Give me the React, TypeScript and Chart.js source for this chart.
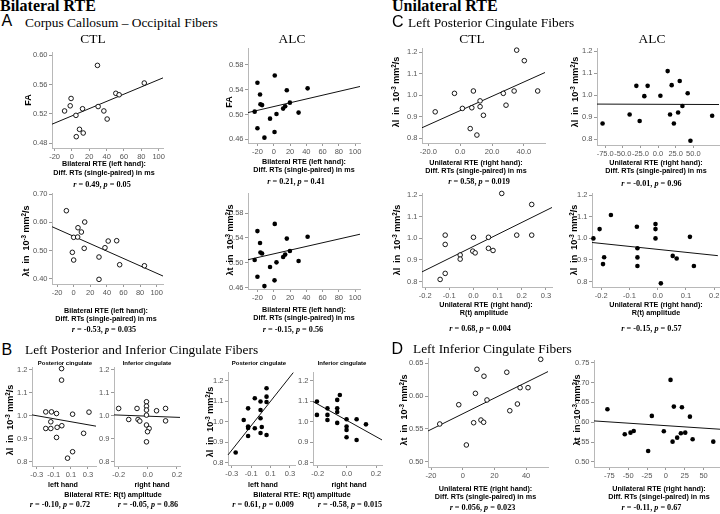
import React, { useEffect, useRef } from "react";
import { Chart, registerables } from "chart.js";
Chart.register(...registerables);

// ================= DATA =================
// A: Corpus Callosum – Occipital Fibers, x = bilateral RTE (left hand), diff. RTs in ms
const aCtlFaX = [-8.5, -2, -1, 4.6, 12.2, 8.7, 13, 5, 29.4, 30.2, 36.8, 40.6, 50.6, 54.4, 83.4];
const aCtlFaY = [0.524, 0.531, 0.541, 0.518, 0.527, 0.499, 0.494, 0.489, 0.586, 0.53, 0.524, 0.513, 0.548, 0.546, 0.562];
const aCtlFaFitX = [-23, 105];
const aCtlFaFitY = [0.506, 0.569];

const aAlcFaX = [-23.5, -20.1, -16.9, -16.4, -14.4, -20.1, -11.5, -4.6, 1.2, 0.9, 3.3, 11.5, 14, 16, 19.8, 30.5, 41.6];
const aAlcFaY = [0.5045, 0.551, 0.532, 0.5165, 0.515, 0.4777, 0.4626, 0.4932, 0.5626, 0.4718, 0.5008, 0.5094, 0.5132, 0.539, 0.519, 0.503, 0.542];
const aAlcFaFitX = [-31.7, 106];
const aAlcFaFitY = [0.503, 0.545];

const aCtlLtX = [-8.8, 13.3, 5.2, 9.3, 0, 4.8, 41.6, 51.8, 12.7, 37.7, -1.6, 0, 30.5, 55.4, 85.2, 30.5];
const aCtlLtY = [0.6416, 0.6014, 0.5811, 0.5658, 0.547, 0.548, 0.5338, 0.5349, 0.5078, 0.51, 0.4936, 0.4662, 0.4769, 0.4495, 0.4459, 0.3975];
const aCtlLtFitX = [-26.1, 107.6];
const aCtlLtFitY = [0.5847, 0.4093];

const aAlcLtX = [-23.5, -20.1, -16.9, -16.4, -14.4, -20.1, -11.5, -4.6, 1.2, 0.9, 3.3, 11.5, 14, 16, 19.8, 30.5, 41.6];
const aAlcLtY = [0.5045, 0.551, 0.532, 0.5165, 0.515, 0.4777, 0.4626, 0.4932, 0.5626, 0.4718, 0.5008, 0.5094, 0.5132, 0.539, 0.519, 0.503, 0.542];
const aAlcLtFitX = [-31.7, 106];
const aAlcLtFitY = [0.505, 0.546];

// B: Left posterior / inferior cingulate, x = bilateral RTE R(t) amplitude
const bCtlPostX = [-0.009, -0.009, -0.194, -0.127, -0.068, 0.12, 0.312, -0.135, -0.194, -0.135, -0.061, -0.006, -0.068, 0.249, 0.12, 0.061];
const bCtlPostY = [1.205, 1.155, 1.017, 1.017, 1.01, 1.007, 1.016, 0.974, 0.945, 0.945, 0.95, 0.957, 0.906, 0.924, 0.844, 0.816];
const bCtlPostFitX = [-0.355, 0.394];
const bCtlPostFitY = [1.004, 0.955];

const bCtlInfX = [-0.2, -0.074, -0.009, -0.009, -0.009, 0.06, 0.122, -0.131, -0.067, -0.009, -0.055, 0.122, -0.009, 0.009, -0.002, -0.009];
const bCtlInfY = [1.032, 1.032, 1.061, 1.042, 1.025, 1.022, 1.032, 0.984, 0.984, 1.003, 0.977, 0.978, 0.96, 0.945, 0.931, 0.887];
const bCtlInfFitX = [-0.232, 0.221];
const bCtlInfFitY = [1.004, 0.993];

const bAlcPostX = [-0.259, -0.131, -0.131, -0.131, -0.131, -0.062, -0.062, -0.003, -0.003, -0.003, -0.003, 0.059, 0.059, 0.059, 0.059, 0.01, -0.176];
const bAlcPostY = [0.85, 1.065, 0.976, 0.969, 0.93, 1.114, 0.968, 1.098, 1.057, 1.017, 0.945, 1.163, 1.122, 1.096, 0.935, 0.974, 1.008];
const bAlcPostFitX = [-0.338, 0.334];
const bAlcPostFitY = [0.838, 1.239];

const bAlcInfX = [-0.205, -0.133, -0.133, -0.066, -0.066, -0.066, -0.066, -0.002, -0.002, -0.002, -0.002, 0.067, 0.131, -0.133, -0.205, 0.067, -0.048];
const bAlcInfY = [1.098, 1.065, 1.033, 1.106, 1.065, 1.047, 0.994, 1.012, 0.976, 0.96, 0.924, 1.012, 0.987, 1.008, 1.033, 0.911, 1.13];
const bAlcInfFitX = [-0.232, 0.241];
const bAlcInfFitY = [1.098, 0.911];

// C: Left posterior cingulate, x = unilateral RTE (right hand)
const cCtlDiffX = [-15.7, -3.6, 1.4, 7.3, 8.3, 12.5, 12.5, 14.6, 6.3, 10.5, 27.1, 28.8, 33.9, 35.5, 40.3, 48.7];
const cCtlDiffY = [0.922, 1.008, 0.938, 0.941, 1.019, 0.973, 0.946, 0.906, 0.844, 0.814, 1.008, 0.953, 1.019, 1.209, 1.16, 1.019];
const cCtlDiffFitX = [-24, 53.3];
const cCtlDiffFitY = [0.848, 1.105];

const cAlcDiffX = [-78.7, -40.3, -30.8, -19.5, -14.8, 3.3, 13.6, 19.3, 17, 22.4, 28.4, 30.7, 34.5, 42, 76.7, -26.1, 45.9];
const cAlcDiffY = [0.871, 0.912, 1.042, 0.995, 1.042, 0.997, 1.109, 1.045, 0.912, 0.871, 0.921, 1.064, 0.95, 1.008, 0.906, 0.882, 0.792];
const cAlcDiffFitX = [-86.6, 86.4];
const cAlcDiffFitY = [0.959, 0.957];

const cCtlRtX = [-0.117, -0.117, -0.055, -0.055, 0, -0.003, 0.007, 0.062, 0.062, 0.081, 0.117, 0.179, 0.241, 0.241, -0.138, -0.117];
const cCtlRtY = [1.015, 0.972, 0.923, 0.904, 1.005, 0.941, 0.933, 1.005, 0.954, 0.944, 1.208, 1.015, 1.157, 1.015, 0.81, 0.838];
const cCtlRtFitX = [-0.213, 0.325];
const cCtlRtFitY = [0.845, 1.143];

const cAlcRtX = [-0.228, -0.206, -0.166, -0.074, -0.072, -0.008, -0.008, -0.008, 0.114, -0.19, -0.194, -0.072, -0.072, 0.053, 0.067, 0.128, 0.011];
const cAlcRtY = [1.0, 1.043, 1.108, 1.054, 0.954, 1.066, 1.043, 1.0, 1.007, 0.913, 0.881, 0.912, 0.872, 0.919, 0.907, 0.872, 0.792];
const cAlcRtFitX = [-0.233, 0.213];
const cAlcRtFitY = [0.981, 0.92];

// D: Left inferior cingulate, x = unilateral RTE (right hand) diff. RTs
const dCtlX = [9, 13.4, 27.8, 49.2, 8, 15.3, 36.2, 41.2, -14.5, -2.5, 6.9, 11.5, 13.2, 2.3, 29.7, 34.5];
const dCtlY = [0.6405, 0.63, 0.636, 0.6556, 0.604, 0.594, 0.6126, 0.6126, 0.5576, 0.5868, 0.5595, 0.5636, 0.5602, 0.5258, 0.5777, 0.5879];
const dCtlFitX = [-21.9, 53.8];
const dCtlFitY = [0.547, 0.637];

const dAlcX = [-77.5, -54.5, -46.9, -42.6, -23.5, -18.6, -2.7, 8.9, 10.6, 15, 21.3, 19.9, 25.7, 31.9, 35.5, 62.9, 6.2];
const dAlcY = [0.6328, 0.5697, 0.5737, 0.578, 0.5275, 0.6159, 0.5773, 0.551, 0.6394, 0.5611, 0.6379, 0.5722, 0.5737, 0.6141, 0.5571, 0.551, 0.7068];
const dAlcFitX = [-95.3, 71.8];
const dAlcFitY = [0.6033, 0.5823];

// tick values
const ticksAx = [-20, 0, 20, 40, 60, 80, 100];
const ticksAFaCtl = [0.48, 0.52, 0.56, 0.6];
const ticksAFaAlc = [0.46, 0.5, 0.54, 0.58];
const ticksALtCtl = [0.4, 0.5, 0.6, 0.7];
const ticksBy = [0.8, 0.9, 1.0, 1.1, 1.2];
const ticksBLeft = [-0.3, -0.1, 0.1, 0.3];
const ticksBRight = [-0.2, 0, 0.2];
const ticksCDiffCtl = [-20, 0, 20, 40];
const ticksCDiffAlc = [-75, -50, -25, 0, 25, 50];
const ticksCRtCtl = [-0.2, -0.1, 0, 0.1, 0.2, 0.3];
const ticksCRtAlc = [-0.2, -0.1, 0, 0.1, 0.2];
const ticksDCtlY = [0.5, 0.55, 0.6, 0.65];
const ticksDAlcY = [0.5, 0.55, 0.6, 0.65, 0.7, 0.75];
const ticksDCtlX = [-20, 0, 20, 40];
const ticksDAlcX = [-75, -50, -25, 0, 25, 50];

// ================= LAYOUT / STYLE =================
const serif = '"Liberation Serif", "Times New Roman", Times, serif';
const sans = '"Liberation Sans", Arial, Helvetica, sans-serif';
const PL = 26, PR = 14, PT = 8, PB = 18;

type Spec = {
  box: number[]; xr: number[]; yr: number[];
  xt: number[]; yt: number[]; xd: number; yd: number;
  xs: number[]; ys: number[]; fx: number[]; fy: number[]; filled: boolean;
};

const specs: Spec[] = [
  { box: [52, 52, 163, 148], xr: [-23, 105], yr: [0.4736, 0.6042], xt: ticksAx, yt: ticksAFaCtl, xd: 0, yd: 2, xs: aCtlFaX, ys: aCtlFaY, fx: aCtlFaFitX, fy: aCtlFaFitY, filled: false },
  { box: [248, 48, 360, 143], xr: [-31.7, 106], yr: [0.454, 0.607], xt: ticksAx, yt: ticksAFaAlc, xd: 0, yd: 2, xs: aAlcFaX, ys: aAlcFaY, fx: aAlcFaFitX, fy: aAlcFaFitY, filled: true },
  { box: [52, 193, 163, 284], xr: [-26.1, 107.6], yr: [0.381, 0.7046], xt: ticksAx, yt: ticksALtCtl, xd: 0, yd: 2, xs: aCtlLtX, ys: aCtlLtY, fx: aCtlLtFitX, fy: aCtlLtFitY, filled: false },
  { box: [248, 193, 360, 289], xr: [-31.7, 106], yr: [0.4579, 0.6123], xt: ticksAx, yt: ticksAFaAlc, xd: 0, yd: 2, xs: aAlcLtX, ys: aAlcLtY, fx: aAlcLtFitX, fy: aAlcLtFitY, filled: true },
  { box: [32, 367, 96, 466], xr: [-0.355, 0.394], yr: [0.782, 1.212], xt: ticksBLeft, yt: ticksBy, xd: 1, yd: 1, xs: bCtlPostX, ys: bCtlPostY, fx: bCtlPostFitX, fy: bCtlPostFitY, filled: false },
  { box: [114, 367, 180, 466], xr: [-0.232, 0.221], yr: [0.782, 1.212], xt: ticksBRight, yt: ticksBy, xd: 1, yd: 1, xs: bCtlInfX, ys: bCtlInfY, fx: bCtlInfFitX, fy: bCtlInfFitY, filled: false },
  { box: [228, 372, 295, 465], xr: [-0.338, 0.352], yr: [0.789, 1.242], xt: ticksBLeft, yt: ticksBy, xd: 1, yd: 1, xs: bAlcPostX, ys: bAlcPostY, fx: bAlcPostFitX, fy: bAlcPostFitY, filled: true },
  { box: [313, 372, 382, 465], xr: [-0.232, 0.241], yr: [0.789, 1.242], xt: ticksBRight, yt: ticksBy, xd: 1, yd: 1, xs: bAlcInfX, ys: bAlcInfY, fx: bAlcInfFitX, fy: bAlcInfFitY, filled: true },
  { box: [422, 48, 545, 143], xr: [-24, 53.3], yr: [0.777, 1.219], xt: ticksCDiffCtl, yt: ticksBy, xd: 1, yd: 1, xs: cCtlDiffX, ys: cCtlDiffY, fx: cCtlDiffFitX, fy: cCtlDiffFitY, filled: false },
  { box: [597, 48, 719, 145], xr: [-86.6, 86.4], yr: [0.773, 1.214], xt: ticksCDiffAlc, yt: ticksBy, xd: 1, yd: 1, xs: cAlcDiffX, ys: cAlcDiffY, fx: cAlcDiffFitX, fy: cAlcDiffFitY, filled: true },
  { box: [422, 193, 552, 287], xr: [-0.213, 0.325], yr: [0.775, 1.21], xt: ticksCRtCtl, yt: ticksBy, xd: 1, yd: 1, xs: cCtlRtX, ys: cCtlRtY, fx: cCtlRtFitX, fy: cCtlRtFitY, filled: false },
  { box: [592, 193, 719, 287], xr: [-0.233, 0.217], yr: [0.775, 1.21], xt: ticksCRtAlc, yt: ticksBy, xd: 1, yd: 1, xs: cAlcRtX, ys: cAlcRtY, fx: cAlcRtFitX, fy: cAlcRtFitY, filled: true },
  { box: [428, 358, 548, 467], xr: [-21.9, 53.8], yr: [0.4924, 0.6576], xt: ticksDCtlX, yt: ticksDCtlY, xd: 0, yd: 2, xs: dCtlX, ys: dCtlY, fx: dCtlFitX, fy: dCtlFitY, filled: false },
  { box: [594, 360, 720, 467], xr: [-95.3, 71.8], yr: [0.487, 0.757], xt: ticksDAlcX, yt: ticksDAlcY, xd: 0, yd: 2, xs: dAlcX, ys: dAlcY, fx: dAlcFitX, fy: dAlcFitY, filled: true },
];

function Plot({ s }: { s: Spec }) {
  const ref = useRef<HTMLCanvasElement | null>(null);
  const [l, t, r, b] = s.box.map(Math.round);
  const W = r - l + PL + PR;
  const H = b - t + PT + PB;
  useEffect(() => {
    const c = ref.current;
    if (!c) return;
    const tickFont = { family: sans, size: 7.5 };
    const grid = { display: true, drawOnChartArea: false, drawTicks: true, tickLength: 3, color: "#9a9a9a", lineWidth: 1 };
    const border = { display: true, color: "#b8b8b8", width: 1 };
    const chart = new Chart(c, {
      type: "scatter",
      data: {
        datasets: [
          {
            data: s.xs.map((x, i) => ({ x, y: s.ys[i] })),
            pointRadius: 2.3,
            pointHoverRadius: 2.3,
            pointBackgroundColor: s.filled ? "#000" : "#fff",
            pointBorderColor: "#000",
            pointBorderWidth: s.filled ? 0 : 0.9,
            clip: false,
          },
          {
            data: s.fx.map((x, i) => ({ x, y: s.fy[i] })),
            showLine: true,
            borderColor: "#111",
            borderWidth: 1,
            pointRadius: 0,
            clip: false,
          },
        ],
      },
      options: {
        animation: false,
        responsive: false,
        devicePixelRatio: 1,
        events: [],
        plugins: { legend: { display: false }, tooltip: { enabled: false } },
        layout: { padding: { left: 0, top: PT, right: PR, bottom: 0 } },
        scales: {
          x: {
            type: "linear", min: s.xr[0], max: s.xr[1], grid, border,
            ticks: { autoSkip: false, maxRotation: 0, minRotation: 0, padding: 1.5, color: "#555", font: tickFont, callback: (v: any) => Number(v).toFixed(s.xd) },
            afterBuildTicks: (ax: any) => { ax.ticks = s.xt.map((v) => ({ value: v })); },
            afterFit: (ax: any) => { ax.height = PB; },
          },
          y: {
            type: "linear", min: s.yr[0], max: s.yr[1], grid, border,
            ticks: { autoSkip: false, padding: 1.5, color: "#555", font: tickFont, callback: (v: any) => Number(v).toFixed(s.yd) },
            afterBuildTicks: (ax: any) => { ax.ticks = s.yt.map((v) => ({ value: v })); },
            afterFit: (ax: any) => { ax.width = PL; },
          },
        },
      } as any,
    } as any);
    return () => chart.destroy();
  }, []);
  return (
    <canvas ref={ref} width={W} height={H}
      style={{ position: "absolute", left: l - PL, top: t - PT, width: W, height: H }} />
  );
}

type TP = { x: number; y: number; a?: "l" | "c"; f?: string; s: number; b?: boolean; rot?: boolean; children: any };
function T({ x, y, a = "c", f = sans, s, b = false, rot = false, children }: TP) {
  const tr = rot ? "translate(-50%,-50%) rotate(-90deg)" : a === "l" ? "translate(0,-50%)" : "translate(-50%,-50%)";
  return (
    <div style={{ position: "absolute", left: x, top: y, transform: tr, fontFamily: f, fontSize: s, fontWeight: b ? "bold" : "normal", lineHeight: 1, whiteSpace: "nowrap", color: "#000" }}>
      {children}
    </div>
  );
}

const sup = { fontSize: "0.7em", verticalAlign: "0.45em", lineHeight: 0 } as const;
const Lam = ({ c }: { c: string }) => (
  <span>λ{c}&nbsp;&nbsp;in&nbsp;&nbsp;10<span style={sup}>-3</span> mm<span style={sup}>2</span>/s</span>
);
const RP = ({ r, p }: { r: string; p: string }) => (
  <span><i>r</i> = {r}, <i>p</i> = {p}</span>
);

export default function App() {
  const ys = 9; // y-title size
  const xs = 7.2; // x-title size
  const rs = 8.2; // r/p size
  return (
    <div style={{ position: "absolute", left: 0, top: 0, width: 720, height: 514, background: "#fff", overflow: "hidden" }}>
      {specs.map((s, i) => <Plot key={i} s={s} />)}

      {/* headings */}
      <T x={0} y={6} a="l" f={serif} s={16} b>Bilateral RTE</T>
      <T x={1.5} y={21} a="l" s={16}>A</T>
      <T x={25} y={22.5} a="l" f={serif} s={13.4}>Corpus Callosum – Occipital Fibers</T>
      <T x={93} y={38.5} f={serif} s={13.4}>CTL</T>
      <T x={292} y={38.5} f={serif} s={13.4}>ALC</T>
      <T x={392} y={6} a="l" f={serif} s={16} b>Unilateral RTE</T>
      <T x={392} y={22} a="l" s={16}>C</T>
      <T x={408} y={22.5} a="l" f={serif} s={13.4}>Left Posterior Cingulate Fibers</T>
      <T x={472} y={38.5} f={serif} s={13.4}>CTL</T>
      <T x={652} y={38.5} f={serif} s={13.4}>ALC</T>
      <T x={1.5} y={350} a="l" s={16}>B</T>
      <T x={25} y={350} a="l" f={serif} s={13.4}>Left Posterior and Inferior Cingulate Fibers</T>
      <T x={391.5} y={349} a="l" s={16}>D</T>
      <T x={413} y={349} a="l" f={serif} s={13.4}>Left Inferior Cingulate Fibers</T>

      {/* y titles */}
      <T x={28} y={100} rot s={ys} b>FA</T>
      <T x={228.5} y={101.5} rot s={ys} b>FA</T>
      <T x={26} y={241} rot s={ys} b><Lam c="t" /></T>
      <T x={230} y={240} rot s={ys} b><Lam c="t" /></T>
      <T x={10} y={420} rot s={ys} b><Lam c="l" /></T>
      <T x={210} y={422} rot s={ys} b><Lam c="l" /></T>
      <T x={396} y={92} rot s={ys} b><Lam c="l" /></T>
      <T x={575} y={92} rot s={ys} b><Lam c="l" /></T>
      <T x={397} y={240} rot s={ys} b><Lam c="l" /></T>
      <T x={574} y={240} rot s={ys} b><Lam c="l" /></T>
      <T x={404} y={410} rot s={ys} b><Lam c="t" /></T>
      <T x={577} y={410} rot s={ys} b><Lam c="t" /></T>

      {/* A x titles */}
      <T x={104} y={164} s={xs} b>Bilateral RTE (left hand):</T>
      <T x={104} y={173} s={xs} b>Diff. RTs (single-paired) in ms</T>
      <T x={102} y={185} f={serif} s={rs} b><RP r="0.49" p="0.05" /></T>
      <T x={304} y={162} s={xs} b>Bilateral RTE (left hand):</T>
      <T x={304} y={170} s={xs} b>Diff. RTs (single-paired) in ms</T>
      <T x={296} y={182} f={serif} s={rs} b><RP r="0.21" p="0.41" /></T>
      <T x={106} y={311} s={xs} b>Bilateral RTE (left hand):</T>
      <T x={106} y={319} s={xs} b>Diff. RTs (single-paired) in ms</T>
      <T x={104} y={330} f={serif} s={rs} b><RP r="-0.53" p="0.035" /></T>
      <T x={304} y={310} s={xs} b>Bilateral RTE (left hand):</T>
      <T x={304} y={318} s={xs} b>Diff. RTs (single-paired) in ms</T>
      <T x={293} y={330} f={serif} s={rs} b><RP r="-0.15" p="0.56" /></T>

      {/* B titles */}
      <T x={65} y={363} s={6} b>Posterior cingulate</T>
      <T x={147} y={363} s={6} b>Inferior cingulate</T>
      <T x={259} y={363} s={6} b>Posterior cingulate</T>
      <T x={342} y={363} s={6} b>Inferior cingulate</T>
      <T x={63} y={485} s={xs} b>left hand</T>
      <T x={152} y={485} s={xs} b>right hand</T>
      <T x={113} y={494.5} s={xs} b>Bilateral RTE: R(t) amplitude</T>
      <T x={60} y={505} f={serif} s={rs} b><RP r="-0.10" p="0.72" /></T>
      <T x={148} y={505} f={serif} s={rs} b><RP r="-0.05" p="0.86" /></T>
      <T x={263} y={485} s={xs} b>left hand</T>
      <T x={349} y={485} s={xs} b>right hand</T>
      <T x={302} y={494.5} s={xs} b>Bilateral RTE: R(t) amplitude</T>
      <T x={263} y={505} f={serif} s={rs} b><RP r="0.61" p="0.009" /></T>
      <T x={350} y={505} f={serif} s={rs} b><RP r="-0.58" p="0.015" /></T>

      {/* C titles */}
      <T x={476} y={163} s={xs} b>Unilateral RTE (right hand):</T>
      <T x={476} y={171} s={xs} b>Diff. RTs (single-paired) in ms</T>
      <T x={479} y={182} f={serif} s={rs} b><RP r="0.58" p="0.019" /></T>
      <T x={656} y={163} s={xs} b>Unilateral RTE (right hand):</T>
      <T x={656} y={171} s={xs} b>Diff. RTs (single-paired) in ms</T>
      <T x={651.5} y={183.5} f={serif} s={rs} b><RP r="-0.01" p="0.96" /></T>
      <T x={486} y={305} s={xs} b>Unilateral RTE (right hand):</T>
      <T x={484} y={313} s={xs} b>R(t) amplitude</T>
      <T x={480} y={329} f={serif} s={rs} b><RP r="0.68" p="0.004" /></T>
      <T x={656} y={305} s={xs} b>Unilateral RTE (right hand):</T>
      <T x={656} y={313} s={xs} b>R(t) amplitude</T>
      <T x={651.5} y={329} f={serif} s={rs} b><RP r="-0.15" p="0.57" /></T>

      {/* D titles */}
      <T x={485.5} y={489} s={xs} b>Unilateral RTE (right hand):</T>
      <T x={485.5} y={496.7} s={xs} b>Diff. RTs (single-paired) in ms</T>
      <T x={482.5} y={508.3} f={serif} s={rs} b><RP r="0.056" p="0.023" /></T>
      <T x={659} y={489} s={xs} b>Unilateral RTE (right hand):</T>
      <T x={659} y={496.7} s={xs} b>Diff. RTs (singel-paired) in ms</T>
      <T x={651.5} y={508.3} f={serif} s={rs} b><RP r="-0.11" p="0.67" /></T>
    </div>
  );
}
